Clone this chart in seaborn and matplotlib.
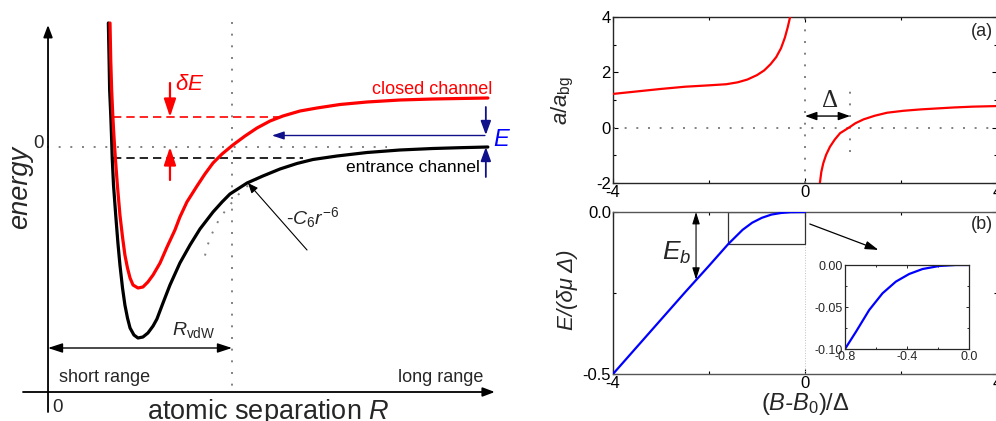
import matplotlib
matplotlib.use("Agg")
import matplotlib.pyplot as plt
import seaborn as sns
from matplotlib.patches import Rectangle
from matplotlib.ticker import FormatStrFormatter

# ---------------- data: left panel (R in units of R_vdW, energy arb. units) ----
R_closed = [0.337, 0.341, 0.346, 0.352, 0.358, 0.366, 0.377, 0.391, 0.405, 0.418,
            0.432, 0.446, 0.462, 0.489, 0.516, 0.543, 0.571, 0.609, 0.647, 0.690,
            0.717, 0.755, 0.810, 0.853, 0.897, 0.946, 1.005, 1.071, 1.136, 1.207,
            1.277, 1.370, 1.462, 1.587, 1.734, 1.913, 2.092, 2.239, 2.391]
E_closed = [1.24, 0.87, 0.57, 0.32, 0.12, -0.11, -0.38, -0.68, -0.90, -1.08,
            -1.21, -1.31, -1.38, -1.41, -1.40, -1.35, -1.28, -1.16, -1.00, -0.83,
            -0.70, -0.55, -0.39, -0.27, -0.16, -0.07, 0.02, 0.11, 0.19, 0.26,
            0.31, 0.36, 0.39, 0.425, 0.45, 0.47, 0.48, 0.485, 0.49]

R_entr = [0.328, 0.332, 0.335, 0.341, 0.345, 0.349, 0.356, 0.368, 0.380, 0.391,
          0.405, 0.418, 0.432, 0.446, 0.467, 0.489, 0.516, 0.543, 0.571, 0.592,
          0.625, 0.663, 0.717, 0.772, 0.826, 0.897, 0.946, 0.989, 1.082, 1.168,
          1.261, 1.353, 1.440, 1.571, 1.734, 1.913, 2.092, 2.239, 2.391]
E_entr = [1.24, 0.87, 0.57, 0.32, 0.12, -0.11, -0.38, -0.68, -0.96, -1.18,
          -1.41, -1.58, -1.71, -1.81, -1.88, -1.91, -1.90, -1.86, -1.79, -1.72,
          -1.56, -1.38, -1.16, -0.98, -0.82, -0.65, -0.55, -0.47, -0.36, -0.29,
          -0.22, -0.165, -0.125, -0.09, -0.055, -0.03, -0.015, -0.007, 0.0]

R_c6 = [1.196, 1.125, 1.071, 1.027, 0.989, 0.946, 0.913, 0.886, 0.864, 0.848]
E_c6 = [-0.27, -0.33, -0.41, -0.49, -0.58, -0.68, -0.78, -0.89, -1.00, -1.13]

R_vdW = 1.0
E_closed_level = 0.30
E_bound_level = -0.11

# ---------------- data: panel (a) --------------------------------------------
B_a_left = [-4.0, -3.5, -3.0, -2.5, -2.0, -1.64, -1.4, -1.2, -1.0, -0.85,
            -0.72, -0.6, -0.5, -0.42, -0.36, -0.31]
a_left = [1.22, 1.31, 1.40, 1.48, 1.53, 1.57, 1.64, 1.74, 1.90, 2.07,
          2.29, 2.55, 2.87, 3.25, 3.63, 4.0]
B_a_right = [0.31, 0.34, 0.38, 0.44, 0.52, 0.62, 0.73, 0.84, 0.94, 1.05,
             1.22, 1.45, 1.71, 2.05, 2.41, 2.8, 3.1, 3.5, 3.98]
a_right = [-2.0, -1.6, -1.29, -0.98, -0.69, -0.43, -0.2, -0.08, 0.03, 0.16,
           0.30, 0.43, 0.54, 0.61, 0.66, 0.70, 0.73, 0.76, 0.78]
Delta = 0.94

# ---------------- data: panel (b) and inset ----------------------------------
B_b = [-4.0, -3.5, -3.0, -2.5, -2.0, -1.6, -1.45, -1.3, -1.1, -0.9,
       -0.7, -0.5, -0.3, 0.0]
E_b = [-0.5, -0.416, -0.332, -0.248, -0.166, -0.099, -0.077, -0.055, -0.033, -0.018,
       -0.008, -0.003, -0.0005, 0.0]
B_in = [-0.8, -0.729, -0.644, -0.558, -0.472, -0.386, -0.30, -0.193, -0.086, 0.0]
E_in = [-0.1, -0.0794, -0.0536, -0.0337, -0.0198, -0.0107, -0.0048, -0.0012, 0.0, 0.0]
zoom_box_x = [-1.6, 0.0]
zoom_box_y = [-0.1, 0.0]
Eb_at = -2.27

# ---------------- style -------------------------------------------------------
sns.set_theme(style="ticks")
plt.rcParams['font.family'] = ['Liberation Sans', 'DejaVu Sans']
plt.rcParams['mathtext.fontset'] = 'custom'
plt.rcParams['mathtext.rm'] = 'Liberation Sans'
plt.rcParams['mathtext.it'] = 'Liberation Sans:italic'
plt.rcParams['mathtext.bf'] = 'Liberation Sans:bold'
plt.rcParams['axes.unicode_minus'] = False

W, H = 996, 421
fig = plt.figure(figsize=(W / 100, H / 100), dpi=100)

DOT = (0, (1, 5))
DOTC = '#808080'
NAVY = '#10108a'


def arrow(ax, x0, y0, x1, y1, color='black', lw=1.0, ms=16, hl=0.45, hw=0.17,
          style='-|>', **kw):
    ax.annotate('', xy=(x1, y1), xytext=(x0, y0),
                arrowprops=dict(arrowstyle=f'{style},head_length={hl},head_width={hw}',
                                color=color, lw=lw, mutation_scale=ms,
                                shrinkA=0, shrinkB=0), **kw)


# ================= left panel =================================================
ax0 = fig.add_axes([0, 0, 500 / W, 1])
ax0.set_xlim(-0.261, 2.457)
ax0.set_ylim(-2.74, 1.47)
ax0.axis('off')

# guides
ax0.plot([R_vdW, R_vdW], [1.25, -2.45], color=DOTC, lw=1.4, ls=DOT, zorder=1)
ax0.plot([-0.005, 1.842], [0, 0], color=DOTC, lw=1.4, ls=DOT, zorder=1)
sns.lineplot(x=R_c6, y=E_c6, ax=ax0, color=DOTC, lw=1.4, ls=DOT,
             sort=False, estimator=None, zorder=1)

# dashed levels
ax0.plot([0.353, 1.277], [E_closed_level] * 2, color='red', lw=1.2, dashes=(5, 3), zorder=2)
ax0.plot([0.353, 1.386], [E_bound_level] * 2, color='black', lw=1.2, dashes=(5, 3), zorder=2)

# potential curves
sns.lineplot(x=R_entr, y=E_entr, ax=ax0, color='black', lw=2.3,
             sort=False, estimator=None, zorder=3)
sns.lineplot(x=R_closed, y=E_closed, ax=ax0, color='red', lw=2.3,
             sort=False, estimator=None, zorder=4)

# coordinate axes with arrows
arrow(ax0, 0, -2.65, 0, 1.22, lw=1.3, ms=16)
arrow(ax0, -0.136, -2.45, 2.429, -2.45, lw=1.3, ms=16)

# R_vdW double arrow
arrow(ax0, 0, -2.01, R_vdW, -2.01, lw=1.0, ms=16, style='<|-|>', hl=0.55, hw=0.18)
ax0.text(0.674, -1.83, r'$R_{\mathrm{vdW}}$', fontsize=14, ha='left', va='center')

# delta E arrows
arrow(ax0, 0.663, 0.64, 0.663, E_closed_level, color='red', lw=1.6, ms=18, hl=0.6, hw=0.2)
arrow(ax0, 0.663, -0.33, 0.663, 0.0, color='red', lw=1.6, ms=18, hl=0.6, hw=0.2)
ax0.text(0.69, 0.62, r'$\delta E$', color='red', fontsize=16, ha='left', va='center')

# detuning E arrows
arrow(ax0, 2.380, 0.40, 2.380, 0.12, color=NAVY, lw=1.3, ms=14, hl=0.6, hw=0.22)
arrow(ax0, 2.380, -0.30, 2.380, 0.0, color=NAVY, lw=1.3, ms=14, hl=0.6, hw=0.22)
arrow(ax0, 2.375, 0.115, 1.217, 0.115, color=NAVY, lw=1.0, ms=12, hl=0.6, hw=0.2)
ax0.text(2.418, 0.07, 'E', color='#0000ff', fontsize=17, style='italic',
         ha='left', va='center')

# -C6 r^-6 annotation
arrow(ax0, 1.408, -1.03, 1.087, -0.36, lw=0.8, ms=10, hl=0.6, hw=0.25)
ax0.text(1.293, -0.71, r'-$C_\mathit{6}r^{-\mathit{6}}$', fontsize=14, ha='left', va='center')

# labels
ax0.text(2.413, 0.58, 'closed channel', color='red', fontsize=13, ha='right', va='center')
ax0.text(2.348, -0.21, 'entrance channel', color='black', fontsize=12.5, ha='right', va='center')
ax0.text(0.06, -2.31, 'short range', fontsize=13, ha='left', va='center')
ax0.text(2.364, -2.31, 'long range', fontsize=13, ha='right', va='center')
ax0.text(0.049, -2.60, '0', fontsize=13.5, ha='center', va='center')
ax0.text(-0.054, 0.04, '0', fontsize=13.5, ha='center', va='center')
ax0.text(-0.152, -0.40, 'energy', fontsize=19.5, style='italic', rotation=90,
         ha='center', va='center')
ax0.text(1.196, -2.72, r'atomic separation $R$', fontsize=19.5, ha='center', va='baseline')

# ================= panel (a) ===================================================
axa = fig.add_axes([613 / W, 1 - 183 / H, 384 / W, 166 / H])
axa.axvline(0, color=DOTC, lw=1.4, ls=DOT, zorder=1)
axa.axhline(0, color=DOTC, lw=1.4, ls=DOT, zorder=1)
axa.plot([Delta, Delta], [-0.87, 1.66], color=DOTC, lw=1.4, ls=DOT, zorder=1)
sns.lineplot(x=B_a_left, y=a_left, ax=axa, color='red', lw=1.6,
             sort=False, estimator=None, zorder=3)
sns.lineplot(x=B_a_right, y=a_right, ax=axa, color='red', lw=1.6,
             sort=False, estimator=None, zorder=3)
arrow(axa, 0, 0.42, Delta, 0.42, lw=1.0, ms=10, style='<|-|>', hl=0.7, hw=0.25)
axa.text(Delta * 0.55, 0.98, 'Δ', family='Liberation Serif', fontsize=18,
         ha='center', va='center')
axa.text(0.99, 0.91, '(a)', transform=axa.transAxes, fontsize=13, ha='right', va='center')
axa.set_xlim(-4, 4)
axa.set_ylim(-2, 4)
axa.set_xticks([-4, 0, 4])
axa.set_xticks([-2, 2], minor=True)
axa.set_yticks([-2, 0, 2, 4])
axa.set_yticks([-1, 1, 3], minor=True)
axa.set_xlabel('')
axa.set_ylabel('')

# ================= panel (b) ===================================================
axb = fig.add_axes([613 / W, 1 - 374 / H, 384 / W, 162 / H])
axb.axvline(0, color='#c0c0c0', lw=0.7, ls=':', zorder=1)
sns.lineplot(x=B_b, y=E_b, ax=axb, color='#0000ff', lw=1.6,
             sort=False, estimator=None, zorder=3)
axb.add_patch(Rectangle((zoom_box_x[0], zoom_box_y[0]),
                        zoom_box_x[1] - zoom_box_x[0], zoom_box_y[1] - zoom_box_y[0],
                        fill=False, ec='#333333', lw=0.9, zorder=2))
arrow(axb, Eb_at, 0.0, Eb_at, -0.209, lw=0.8, ms=9, style='<|-|>', hl=0.8, hw=0.25)
axb.text(-2.67, -0.127, r'$E_b$', fontsize=19, ha='center', va='center')
arrow(axb, 0.10, -0.037, 1.53, -0.117, lw=0.9, ms=10, hl=0.8, hw=0.25)
axb.text(0.99, 0.92, '(b)', transform=axb.transAxes, fontsize=13, ha='right', va='center')
axb.set_xlim(-4, 4)
axb.set_ylim(-0.5, 0.0)
axb.set_xticks([-4, 0, 4])
axb.set_xticks([-2, 2], minor=True)
axb.set_yticks([-0.5, 0.0])
axb.set_yticks([-0.25], minor=True)
axb.yaxis.set_major_formatter(FormatStrFormatter('%.1f'))
axb.set_xlabel('')
axb.set_ylabel('')
for s in ('top', 'bottom'):
    axb.spines[s].set_color('#555555')

for ax in (axa, axb):
    ax.tick_params(which='both', direction='in', top=True, right=True, colors='black')
    ax.tick_params(which='major', length=3.5, width=0.8, pad=1.5, labelsize=12)
    ax.tick_params(which='minor', length=2, width=0.8)
    for s in ax.spines.values():
        s.set_linewidth(1.0)

fig.text(563 / W, 1 - 100 / H, r'$a/a_{\mathrm{bg}}$', fontsize=16, rotation=90,
         ha='center', va='center')
fig.text(567 / W, 1 - 290 / H, 'E/(δμ Δ)', fontsize=16, style='italic', rotation=90,
         ha='center', va='center')
fig.text(805 / W, 1 - 404 / H, r'$(B$-$B_\mathit{0})/\Delta$', fontsize=17, style='italic',
         ha='center', va='center')

# ================= inset =======================================================
axi = fig.add_axes([845 / W, 1 - 349 / H, 124 / W, 84 / H])
sns.lineplot(x=B_in, y=E_in, ax=axi, color='#0000ff', lw=1.6,
             sort=False, estimator=None)
axi.set_xlim(-0.8, 0.0)
axi.set_ylim(-0.1, 0.0)
axi.set_xticks([-0.8, -0.4, 0.0])
axi.set_xticks([-0.6, -0.2], minor=True)
axi.set_yticks([-0.10, -0.05, 0.00])
axi.set_yticks([-0.075, -0.025], minor=True)
axi.xaxis.set_major_formatter(FormatStrFormatter('%.1f'))
axi.yaxis.set_major_formatter(FormatStrFormatter('%.2f'))
axi.tick_params(which='both', direction='in', top=True, right=True)
axi.tick_params(which='major', length=2.5, width=0.7, pad=1.5, labelsize=9)
axi.tick_params(which='minor', length=1.5, width=0.7)
axi.set_xlabel('')
axi.set_ylabel('')
for s in axi.spines.values():
    s.set_linewidth(0.9)

fig.savefig('out.png', dpi=100)
